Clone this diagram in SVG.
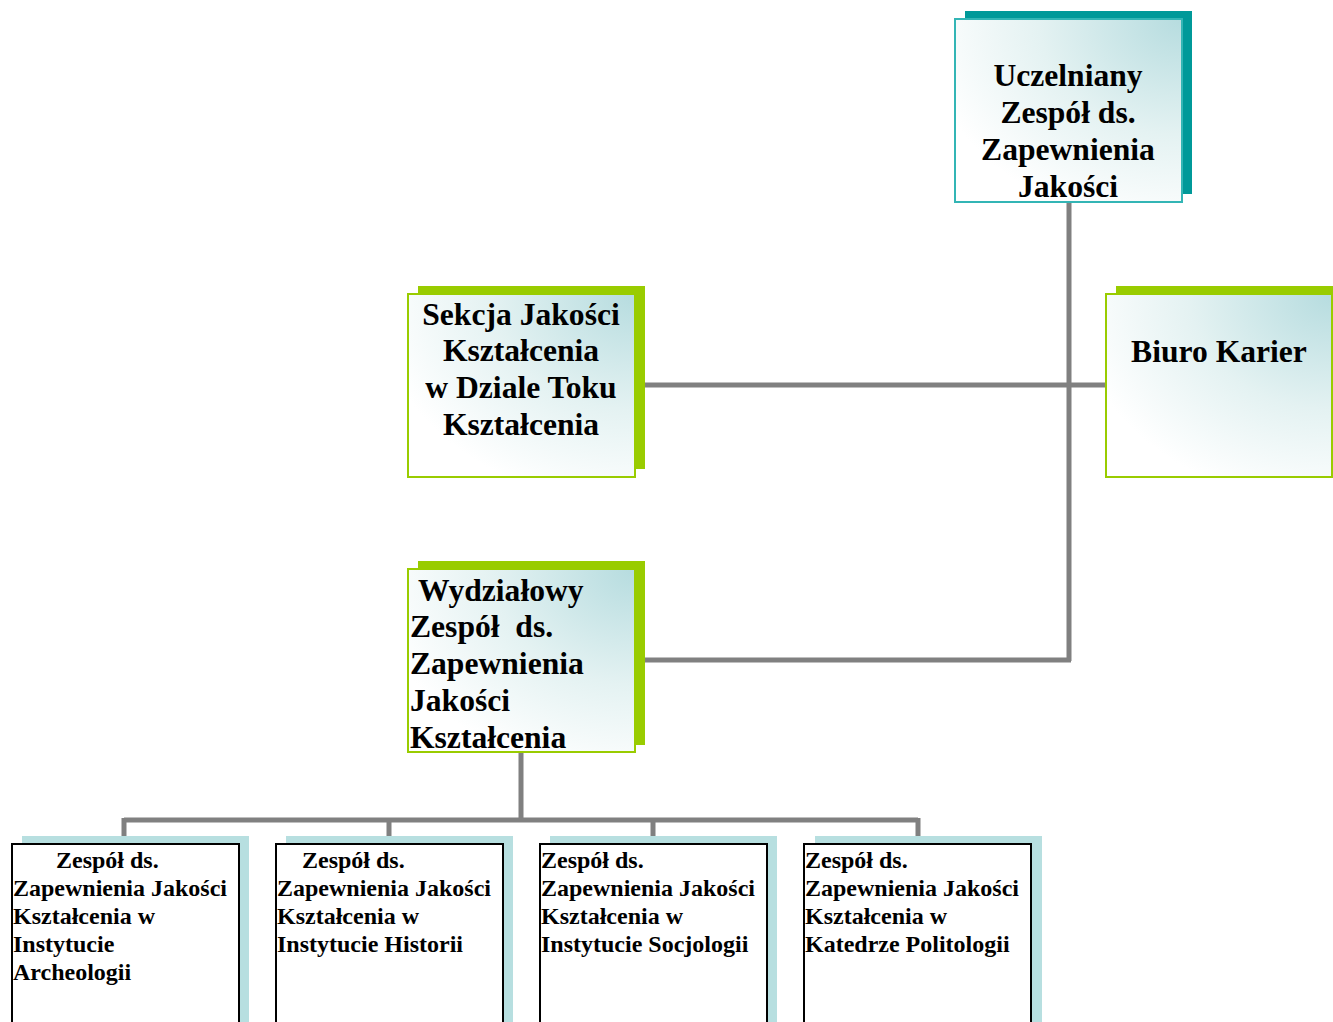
<svg xmlns="http://www.w3.org/2000/svg" width="1333" height="1022" viewBox="0 0 1333 1022">
<style>
.t{font-family:"Liberation Serif","Times New Roman",serif;font-weight:bold;fill:#000}
.big{font-size:31.6px}
.sm{font-size:24px}
.c{text-anchor:middle}
.ln{stroke:#808080;stroke-width:5;fill:none}
.gbox{fill:url(#g);stroke:#99cc00;stroke-width:2}
.tbox{fill:url(#g);stroke:#33b5b5;stroke-width:2}
.wbox{fill:#fff;stroke:#000;stroke-width:2}
</style>
<defs>
<radialGradient id="g" cx="1" cy="0" r="1.15">
<stop offset="0" stop-color="#b6dcdf"/>
<stop offset="0.55" stop-color="#e4f2f2"/>
<stop offset="1" stop-color="#ffffff"/>
</radialGradient>
</defs>
<rect width="1333" height="1022" fill="#fff"/>
<g id="connectors">
<path class="ln" d="M1069 202 V661 M645 385 H1106 M645 660 H1071"/>
<path class="ln" d="M521 752 V820 M124 820 H918 M124 818 V836 M389 818 V836 M653 818 V836 M918 818 V836"/>
</g>
<g id="uczelniany">
<rect x="965" y="11" width="227" height="183" fill="#009999"/>
<rect class="tbox" x="955" y="19" width="227" height="183"/>
<text class="t big c" x="1068" y="86">Uczelniany</text>
<text class="t big c" x="1068" y="123">Zespół ds.</text>
<text class="t big c" x="1068" y="160">Zapewnienia</text>
<text class="t big c" x="1068" y="197">Jakości</text>
</g>
<g id="sekcja">
<rect x="418" y="286" width="227" height="183" fill="#99cc00"/>
<rect class="gbox" x="408" y="294" width="227" height="183"/>
<text class="t big c" x="521" y="325">Sekcja Jakości</text>
<text class="t big c" x="521" y="361">Kształcenia</text>
<text class="t big c" x="521" y="398">w Dziale Toku</text>
<text class="t big c" x="521" y="435">Kształcenia</text>
</g>
<g id="biuro">
<rect x="1116" y="286" width="217" height="183" fill="#99cc00"/>
<rect class="gbox" x="1106" y="294" width="226" height="183"/>
<text class="t big c" x="1219" y="362">Biuro Karier</text>
</g>
<g id="wydzialowy">
<rect x="418" y="561" width="227" height="184" fill="#99cc00"/>
<rect class="gbox" x="408" y="569" width="227" height="183"/>
<text class="t big" x="418" y="601">Wydziałowy</text>
<text class="t big" x="410" y="637" xml:space="preserve">Zespół  ds.</text>
<text class="t big" x="410" y="674">Zapewnienia</text>
<text class="t big" x="410" y="711">Jakości</text>
<text class="t big" x="410" y="748">Kształcenia</text>
</g>
<g id="archeologia">
<rect x="22" y="836" width="227" height="190" fill="#b7dfe0"/>
<rect class="wbox" x="12" y="844" width="227" height="190"/>
<text class="t sm" x="56" y="868">Zespół ds.</text>
<text class="t sm" x="13" y="896">Zapewnienia Jakości</text>
<text class="t sm" x="13" y="924">Kształcenia w</text>
<text class="t sm" x="13" y="952">Instytucie</text>
<text class="t sm" x="13" y="980">Archeologii</text>
</g>
<g id="historia">
<rect x="286" y="836" width="227" height="190" fill="#b7dfe0"/>
<rect class="wbox" x="276" y="844" width="227" height="190"/>
<text class="t sm" x="302" y="868">Zespół ds.</text>
<text class="t sm" x="277" y="896">Zapewnienia Jakości</text>
<text class="t sm" x="277" y="924">Kształcenia w</text>
<text class="t sm" x="277" y="952">Instytucie Historii</text>
</g>
<g id="socjologia">
<rect x="550" y="836" width="227" height="190" fill="#b7dfe0"/>
<rect class="wbox" x="540" y="844" width="227" height="190"/>
<text class="t sm" x="541" y="868">Zespół ds.</text>
<text class="t sm" x="541" y="896">Zapewnienia Jakości</text>
<text class="t sm" x="541" y="924">Kształcenia w</text>
<text class="t sm" x="541" y="952">Instytucie Socjologii</text>
</g>
<g id="politologia">
<rect x="815" y="836" width="227" height="190" fill="#b7dfe0"/>
<rect class="wbox" x="804" y="844" width="227" height="190"/>
<text class="t sm" x="805" y="868">Zespół ds.</text>
<text class="t sm" x="805" y="896">Zapewnienia Jakości</text>
<text class="t sm" x="805" y="924">Kształcenia w</text>
<text class="t sm" x="805" y="952">Katedrze Politologii</text>
</g>
</svg>
